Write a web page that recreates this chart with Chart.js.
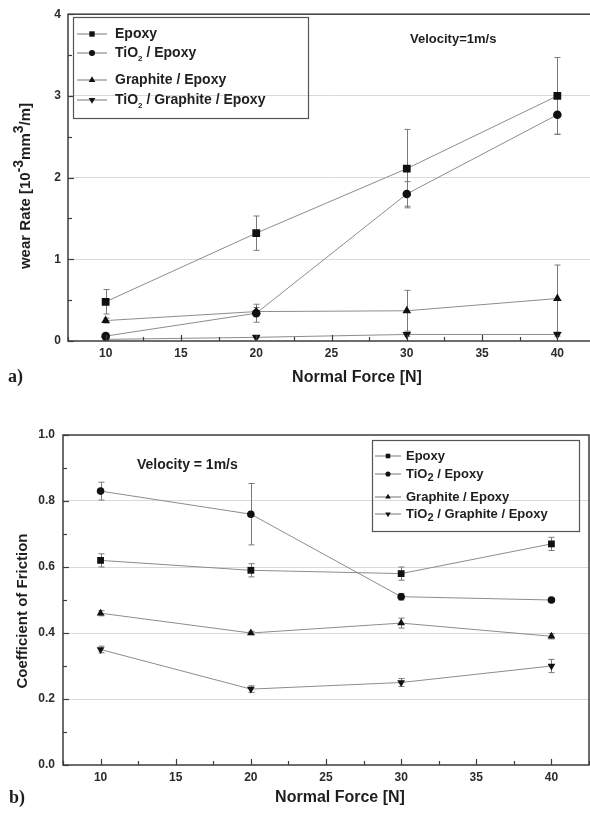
<!DOCTYPE html>
<html>
<head>
<meta charset="utf-8">
<script src="https://cdn.jsdelivr.net/npm/chart.js@4.4.0/dist/chart.umd.min.js"></script>
<style>
  html, body { margin: 0; padding: 0; background: #fff; overflow: hidden; }
  #wrapA { position: absolute; left: 0; top: 0; width: 602px; height: 400px; }
  #wrapB { position: absolute; left: 0; top: 400px; width: 594px; height: 413px; }
</style>
</head>
<body>
<div id="wrapA"><canvas id="wearChart" width="602" height="400"></canvas></div>
<div id="wrapB"><canvas id="frictionChart" width="594" height="413"></canvas></div>
<script>
// ---- data ----
var forces = [10, 20, 30, 40];
var seriesNames = ["Epoxy", "TiO2 / Epoxy", "Graphite / Epoxy", "TiO2 / Graphite / Epoxy"];

var wearEpoxy = [0.48, 1.32, 2.11, 3.00];
var wearTiO2 = [0.06, 0.34, 1.80, 2.77];
var wearGraphite = [0.25, 0.36, 0.37, 0.52];
var wearTiO2Graphite = [0.02, 0.045, 0.08, 0.08];
var wearEpoxyErr = [0.15, 0.21, 0.48, 0.47];
var wearTiO2Err = [0.03, 0.11, 0.15, 0.24];
var wearGraphiteErr = [0.03, 0.05, 0.25, 0.41];
var wearTiO2GraphiteErr = [0.01, 0.01, 0.02, 0.02];

var frictionEpoxy = [0.62, 0.59, 0.58, 0.67];
var frictionTiO2 = [0.83, 0.76, 0.51, 0.50];
var frictionGraphite = [0.46, 0.40, 0.43, 0.39];
var frictionTiO2Graphite = [0.35, 0.23, 0.25, 0.30];
var frictionEpoxyErr = [0.02, 0.02, 0.02, 0.02];
var frictionTiO2Err = [0.027, 0.093, 0.01, 0.005];
var frictionGraphiteErr = [0.008, 0.005, 0.015, 0.008];
var frictionTiO2GraphiteErr = [0.01, 0.01, 0.012, 0.02];

var wearTicks = [0, 1, 2, 3, 4];
var frictionTicks = [0.0, 0.2, 0.4, 0.6, 0.8, 1.0];
var forceTicks = [10, 15, 20, 25, 30, 35, 40];

// ---- helpers ----
var FONT = '"Liberation Sans", Arial, sans-serif';

function isMajor(v, step) {
  return Math.abs(v / step - Math.round(v / step)) < 1e-6;
}

function inList(v, list) {
  return list.some(function (t) { return Math.abs(t - v) < 1e-6; });
}

function drawRich(ctx, parts, x, y, align) {
  var total = 0;
  parts.forEach(function (p) {
    ctx.font = 'bold ' + p.size + 'px ' + (p.family || FONT);
    p.w = ctx.measureText(p.t).width;
    total += p.w;
  });
  var cx = align === 'center' ? x - total / 2 : x;
  ctx.textAlign = 'left';
  ctx.textBaseline = 'middle';
  parts.forEach(function (p) {
    ctx.font = 'bold ' + p.size + 'px ' + (p.family || FONT);
    ctx.fillText(p.t, cx, y + (p.dy || 0));
    cx += p.w;
  });
}

// "TiO2" gets a subscript 2
function nameParts(name, size, subSize, subDy) {
  var bits = name.split('TiO2');
  var parts = [];
  bits.forEach(function (b, i) {
    if (i > 0) {
      parts.push({ t: 'TiO', size: size });
      parts.push({ t: '2', size: subSize, dy: subDy });
    }
    if (b) parts.push({ t: b, size: size });
  });
  return parts;
}

function drawMarker(ctx, style, rot, r, x, y) {
  ctx.beginPath();
  if (style === 'rect') {
    ctx.rect(x - r * 0.71, y - r * 0.71, r * 1.42, r * 1.42);
  } else if (style === 'circle') {
    ctx.arc(x, y, r * 0.8, 0, Math.PI * 2);
  } else {
    var s = rot ? -1 : 1;
    ctx.moveTo(x, y - s * r);
    ctx.lineTo(x + r * 0.87, y + s * r * 0.5);
    ctx.lineTo(x - r * 0.87, y + s * r * 0.5);
    ctx.closePath();
  }
  ctx.fill();
}

var markerStyles = ['rect', 'circle', 'triangle', 'triangle'];
var markerRotations = [0, 0, 0, 180];

// error bars under the lines
var errorBars = {
  id: 'errorBars',
  beforeDatasetsDraw: function (chart) {
    var ctx = chart.ctx, xs = chart.scales.x, ys = chart.scales.y;
    ctx.save();
    ctx.strokeStyle = '#7a7a7a';
    ctx.lineWidth = 1;
    chart.data.datasets.forEach(function (ds) {
      if (!ds.errors) return;
      ds.data.forEach(function (p, i) {
        var e = ds.errors[i];
        var px = Math.round(xs.getPixelForValue(p.x)) + 0.5;
        var top = ys.getPixelForValue(p.y + e);
        var bot = ys.getPixelForValue(p.y - e);
        ctx.beginPath();
        ctx.moveTo(px, top); ctx.lineTo(px, bot);
        ctx.moveTo(px - 3, top); ctx.lineTo(px + 3, top);
        ctx.moveTo(px - 3, bot); ctx.lineTo(px + 3, bot);
        ctx.stroke();
      });
    });
    ctx.restore();
  }
};

// frame, inward ticks, legend box and free texts
var decorations = {
  id: 'decorations',
  afterDraw: function (chart, args, opt) {
    var ctx = chart.ctx, a = chart.chartArea;
    var xs = chart.scales.x, ys = chart.scales.y;
    ctx.save();
    ctx.strokeStyle = '#3c3c3c';
    ctx.lineWidth = 1.5;
    ctx.strokeRect(a.left, a.top, a.right - a.left, a.bottom - a.top);

    ctx.lineWidth = 1.2;
    xs.ticks.forEach(function (t) {
      var px = Math.round(xs.getPixelForValue(t.value)) + 0.5;
      var len = isMajor(t.value, 5) ? 6 : 4;
      ctx.beginPath(); ctx.moveTo(px, a.bottom); ctx.lineTo(px, a.bottom - len); ctx.stroke();
    });
    ys.ticks.forEach(function (t) {
      var py = Math.round(ys.getPixelForValue(t.value)) + 0.5;
      var len = inList(t.value, opt.yMajor) ? 6 : 4;
      ctx.beginPath(); ctx.moveTo(a.left, py); ctx.lineTo(a.left + len, py); ctx.stroke();
    });

    // legend
    var lg = opt.legend;
    ctx.strokeStyle = '#555';
    ctx.lineWidth = 1.2;
    ctx.strokeRect(lg.box[0] + 0.5, lg.box[1] + 0.5, lg.box[2] - lg.box[0], lg.box[3] - lg.box[1]);
    chart.data.datasets.forEach(function (ds, i) {
      var y = lg.rows[i];
      ctx.strokeStyle = '#777';
      ctx.lineWidth = 1;
      ctx.beginPath();
      ctx.moveTo(lg.lineX[0], y); ctx.lineTo(lg.lineX[1], y);
      ctx.stroke();
      ctx.fillStyle = '#111';
      drawMarker(ctx, markerStyles[i], markerRotations[i], lg.marker, (lg.lineX[0] + lg.lineX[1]) / 2, y);
      ctx.fillStyle = '#1e1e1e';
      drawRich(ctx, nameParts(ds.label, lg.size, lg.subSize, lg.subDy), lg.textX, y, 'left');
    });

    // free texts (titles, notes, panel letters)
    opt.texts.forEach(function (tx) {
      ctx.save();
      ctx.fillStyle = '#1e1e1e';
      ctx.translate(tx.x, tx.y);
      if (tx.rotate) ctx.rotate(tx.rotate);
      drawRich(ctx, tx.parts, 0, 0, tx.align);
      ctx.restore();
    });
    ctx.restore();
  }
};

function buildDatasets(seriesList, errList, sizes) {
  return seriesList.map(function (vals, i) {
    return {
      label: seriesNames[i],
      data: forces.map(function (f, k) { return { x: f, y: vals[k] }; }),
      errors: errList[i],
      borderColor: '#8c8c8c',
      borderWidth: 1,
      tension: 0,
      pointStyle: markerStyles[i],
      rotation: markerRotations[i],
      pointRadius: sizes[i],
      pointBackgroundColor: '#111',
      pointBorderColor: '#111',
      pointBorderWidth: 0
    };
  });
}

function makeOptions(cfg) {
  return {
    responsive: false,
    animation: false,
    events: [],
    layout: { padding: cfg.padding },
    scales: {
      x: {
        type: 'linear',
        min: 7.5, max: 42.5,
        border: { display: false },
        grid: { display: false, drawTicks: false },
        afterFit: function (s) { s.height = cfg.xHeight; },
        ticks: {
          stepSize: 2.5,
          autoSkip: false,
          maxRotation: 0,
          padding: 5,
          color: '#2b2b2b',
          font: { family: FONT, size: 12, weight: 'bold' },
          callback: function (v) { return inList(v, forceTicks) ? String(v) : ''; }
        }
      },
      y: {
        min: cfg.yMin, max: cfg.yMax,
        border: { display: false },
        afterFit: function (s) { s.width = cfg.yWidth; },
        grid: {
          drawTicks: false,
          lineWidth: 1,
          color: function (c) {
            var v = c.tick.value;
            return (inList(v, cfg.yMajor) && v > cfg.yMin && v < cfg.yMax) ? '#d9d9d9' : 'rgba(0,0,0,0)';
          }
        },
        ticks: {
          stepSize: cfg.yStep,
          autoSkip: false,
          padding: cfg.yPad,
          color: '#2b2b2b',
          font: { family: FONT, size: 12, weight: 'bold' },
          callback: function (v) { return inList(v, cfg.yMajor) ? cfg.fmt(v) : ''; }
        }
      }
    },
    plugins: {
      legend: { display: false },
      tooltip: { enabled: false },
      decorations: { yMajor: cfg.yMajor, legend: cfg.legend, texts: cfg.texts }
    }
  };
}

// ---- (a) wear rate ----
new Chart(document.getElementById('wearChart').getContext('2d'), {
  type: 'line',
  data: {
    datasets: buildDatasets(
      [wearEpoxy, wearTiO2, wearGraphite, wearTiO2Graphite],
      [wearEpoxyErr, wearTiO2Err, wearGraphiteErr, wearTiO2GraphiteErr],
      [5.5, 4.3, 5, 5]
    )
  },
  options: makeOptions({
    padding: { left: 0, top: 13, right: 7, bottom: 0 },
    xHeight: 59, yWidth: 68, yPad: 7,
    yMin: 0, yMax: 4, yStep: 0.5, yMajor: wearTicks,
    fmt: function (v) { return String(v); },
    legend: {
      box: [73, 17, 308, 118], rows: [34, 53, 80, 100],
      lineX: [77, 107], textX: 115, marker: 3.8,
      size: 14, subSize: 8, subDy: 6
    },
    texts: [
      { parts: [{ t: 'Velocity=1m/s', size: 13 }], x: 410, y: 39, align: 'left' },
      { parts: [{ t: 'Normal Force [N]', size: 16 }], x: 357, y: 378, align: 'center' },
      { parts: [
          { t: 'wear Rate [10', size: 15 }, { t: '-3', size: 14, dy: -7 },
          { t: 'mm', size: 15 }, { t: '3', size: 14, dy: -7 }, { t: '/m]', size: 15 }
        ], x: 26, y: 186, align: 'center', rotate: -Math.PI / 2 },
      { parts: [{ t: 'a)', size: 18, family: '"Liberation Serif", "Times New Roman", serif' }], x: 8, y: 377, align: 'left' }
    ]
  }),
  plugins: [errorBars, decorations]
});

// ---- (b) coefficient of friction ----
new Chart(document.getElementById('frictionChart').getContext('2d'), {
  type: 'line',
  data: {
    datasets: buildDatasets(
      [frictionEpoxy, frictionTiO2, frictionGraphite, frictionTiO2Graphite],
      [frictionEpoxyErr, frictionTiO2Err, frictionGraphiteErr, frictionTiO2GraphiteErr],
      [4.8, 3.8, 4.5, 4.5]
    )
  },
  options: makeOptions({
    padding: { left: 0, top: 35, right: 1, bottom: 0 },
    xHeight: 48, yWidth: 63, yPad: 8,
    yMin: 0, yMax: 1, yStep: 0.1, yMajor: frictionTicks,
    fmt: function (v) { return v.toFixed(1); },
    legend: {
      box: [372, 40, 579, 131], rows: [56, 74, 97, 114],
      lineX: [375, 401], textX: 406, marker: 3.2,
      size: 13, subSize: 11, subDy: 4
    },
    texts: [
      { parts: [{ t: 'Velocity = 1m/s', size: 14 }], x: 137, y: 65, align: 'left' },
      { parts: [{ t: 'Normal Force [N]', size: 16 }], x: 340, y: 398, align: 'center' },
      { parts: [{ t: 'Coefficient of Friction', size: 15 }], x: 23, y: 211, align: 'center', rotate: -Math.PI / 2 },
      { parts: [{ t: 'b)', size: 18, family: '"Liberation Serif", "Times New Roman", serif' }], x: 9, y: 398, align: 'left' }
    ]
  }),
  plugins: [errorBars, decorations]
});
</script>
</body>
</html>
